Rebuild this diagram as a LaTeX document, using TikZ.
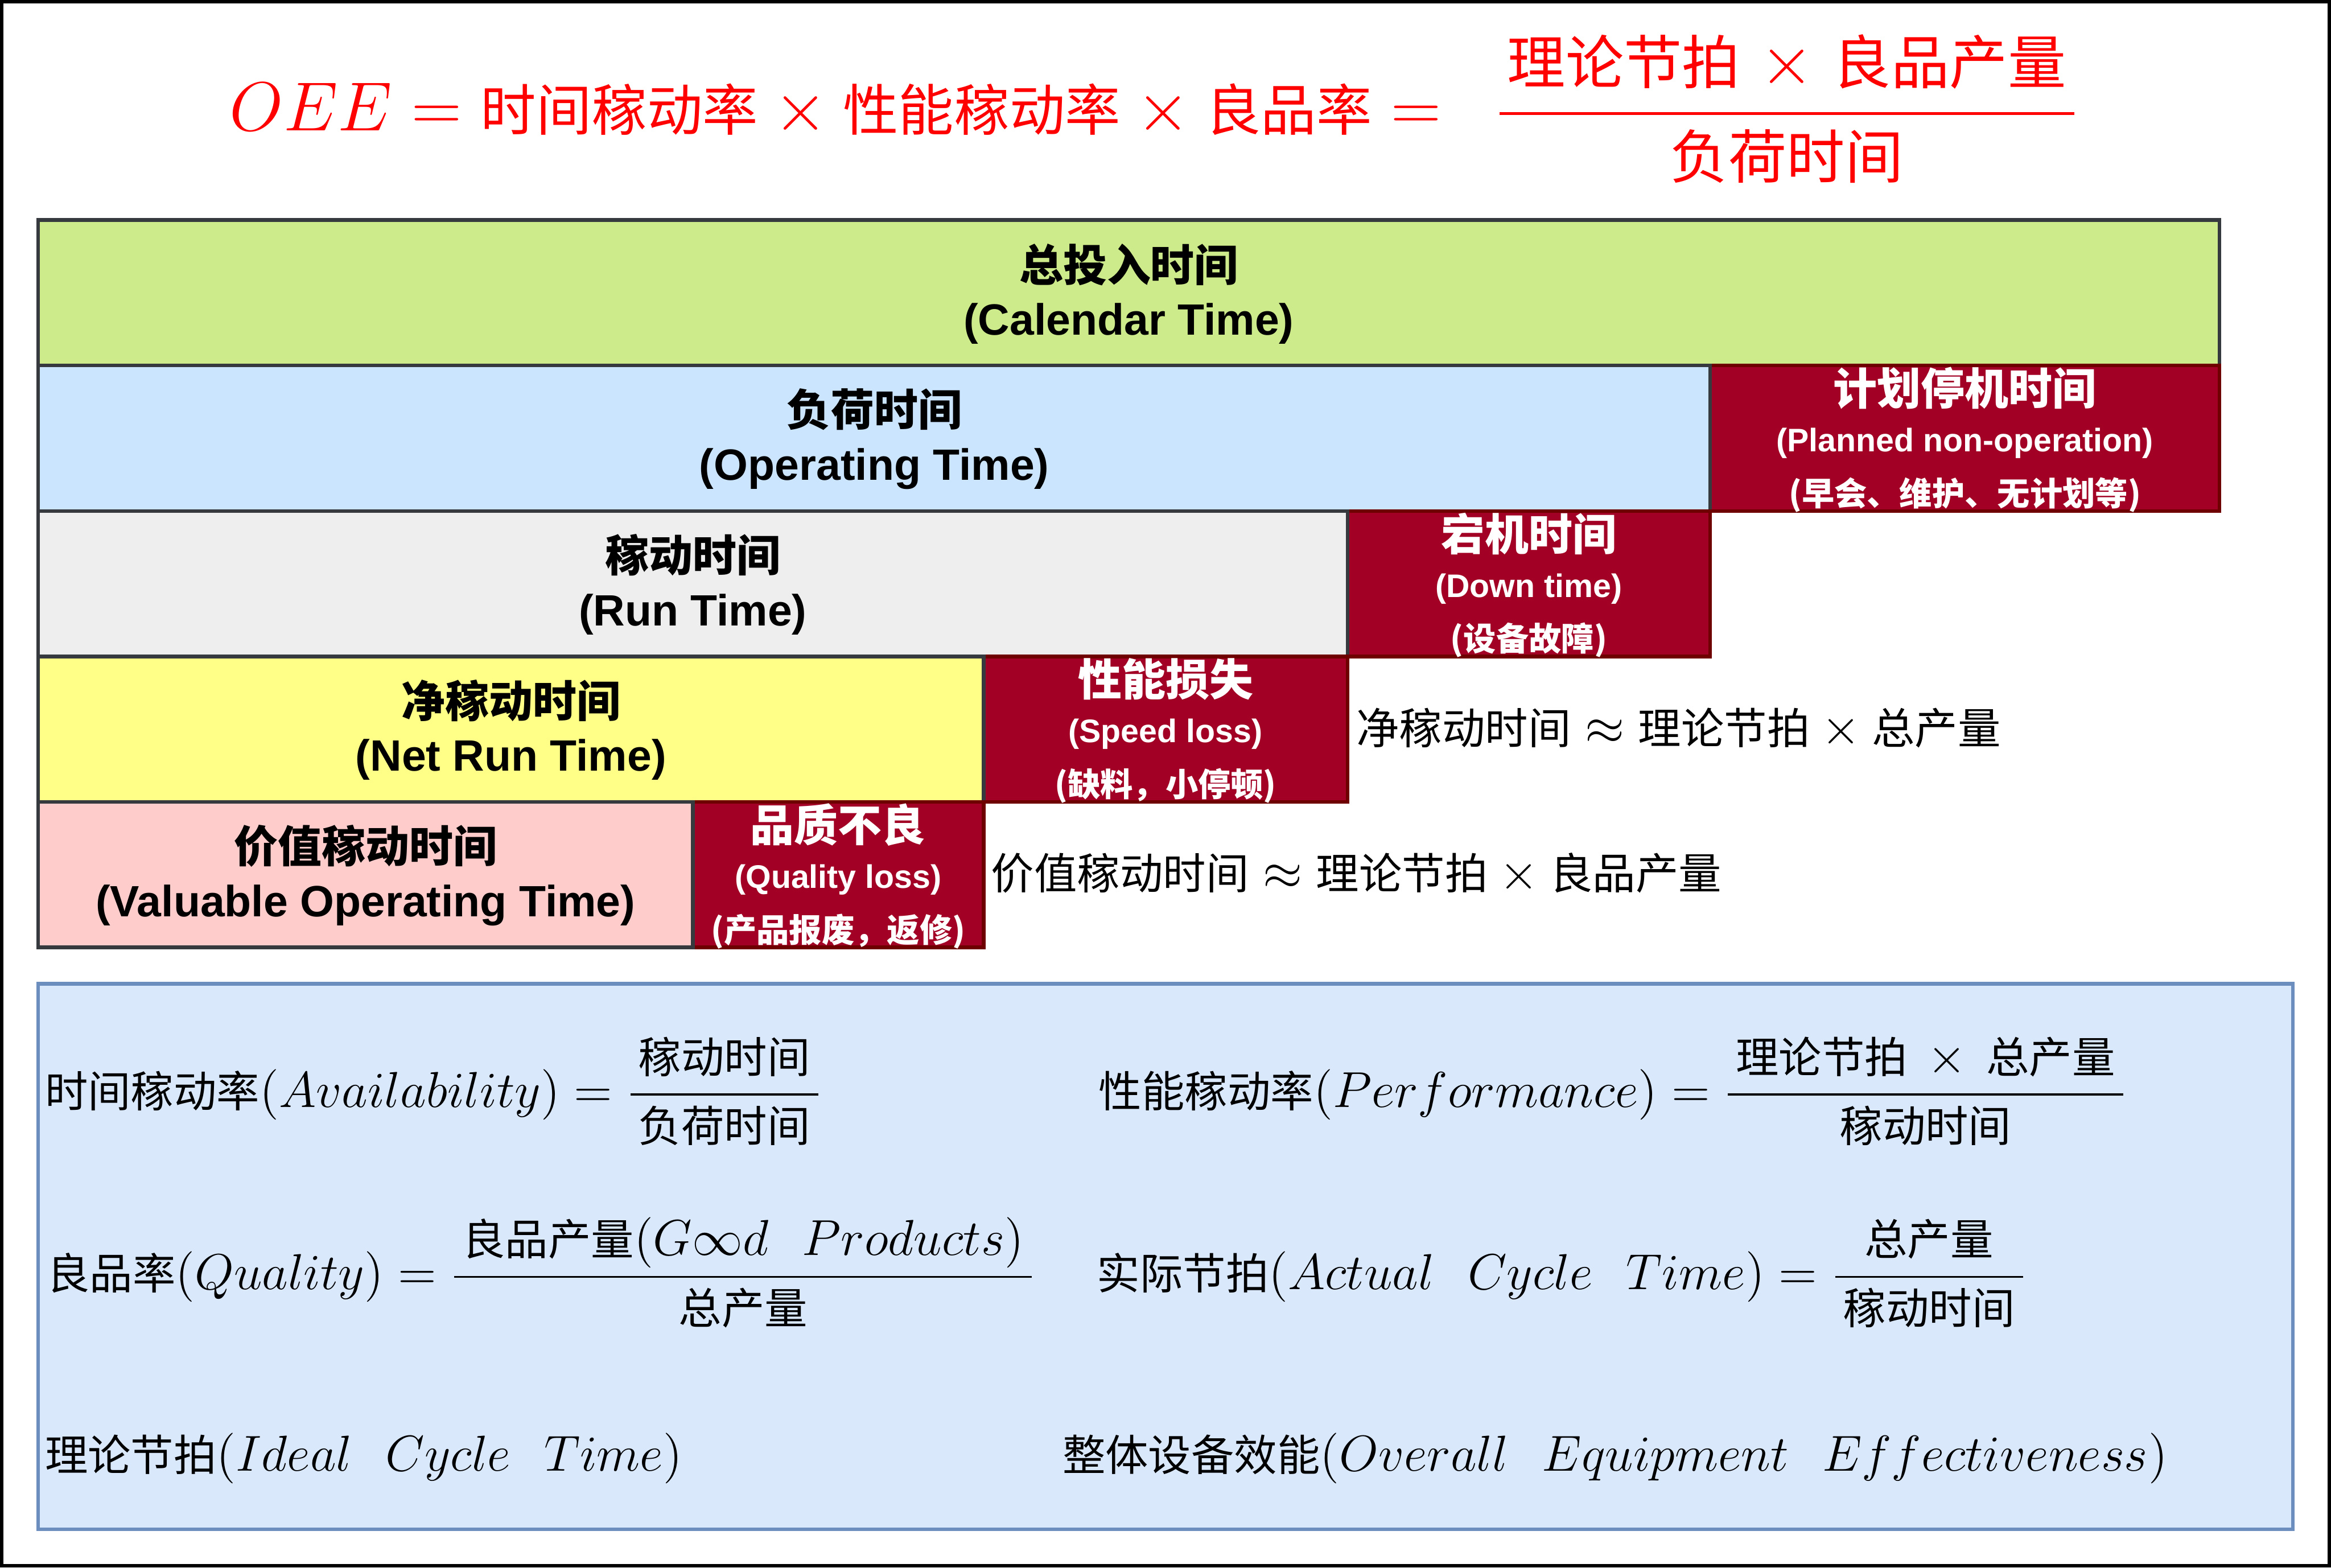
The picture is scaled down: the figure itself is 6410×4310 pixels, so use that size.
\RequirePackage{fix-cm}
\documentclass[tikz,border=0pt]{standalone}
\usepackage{amsmath}
\usepackage[no-math]{fontspec}
\setmainfont{Liberation Sans}
\newfontfamily\cjkb{Noto Sans CJK SC}
\newfontfamily\cjk[Scale=0.85]{Noto Sans CJK SC}
\newfontfamily\cjktop[Scale=0.80]{Noto Sans CJK SC}
\newfontfamily\cjkfrac[Scale=0.84]{Noto Sans CJK SC}

\definecolor{calgreen}{HTML}{CDEB8B}
\definecolor{opblue}{HTML}{CCE5FF}
\definecolor{rungray}{HTML}{EEEEEE}
\definecolor{netyellow}{HTML}{FFFF88}
\definecolor{valpink}{HTML}{FFCCCC}
\definecolor{stageline}{HTML}{36393D}
\definecolor{lossred}{HTML}{A20025}
\definecolor{lossline}{HTML}{6F0000}
\definecolor{panelfill}{HTML}{DAE8FC}
\definecolor{panelline}{HTML}{6C8EBF}

\tikzset{
    stagebox/.style={draw=stageline,line width=0.04cm},
    lossbox/.style={draw=lossline,fill=lossred,line width=0.04cm},
    stagelabel/.style={align=center,inner sep=0pt,
        font=\fontsize{13.7}{16.8}\selectfont\bfseries},
    losslabel/.style={align=center,inner sep=0pt,text=white,
        font=\fontsize{10.2}{16.8}\selectfont\bfseries},
    formula/.style={anchor=west,inner sep=0pt,
        font=\fontsize{15.8}{19}\selectfont},
}
\newcommand{\losstitle}[1]{{\fontsize{13.7}{16.8}\selectfont\cjkb #1}\\[-2.2pt]}
\newcommand{\zh}[1]{\text{\cjk #1}}
\newcommand{\zt}[1]{\text{\cjktop #1}}
\newcommand{\zf}[1]{\text{\cjkfrac #1}}
\newcommand{\pad}{\hspace{2.5pt}}
\newcommand{\wsp}{\mskip12mu}

\begin{document}
\begin{tikzpicture}[x=0.004cm,y=-0.004cm]
    \useasboundingbox (0,0) rectangle (6410,4310);
    \draw[line width=0.04cm] (5,5) rectangle (6405,4305);

    % OEE
    \node[anchor=west,inner sep=0pt,text=red,font=\fontsize{21.7}{26}\selectfont] (oee) at (630,299)
        {$OEE = \zt{时间稼动率} \times \zt{性能稼动率} \times \zt{良品率} = \hspace{11pt}
        \dfrac{\pad\zf{理论节拍} \mskip1mu\times\mskip1mu \zf{良品产量}\pad}{\pad\zf{负荷时间}\pad}$};

    % time bars, one row at a time
    \draw[stagebox,fill=calgreen] (105,605) rectangle (6103,1005);
    \draw[lossbox] (4703,1005) rectangle (6103,1405);
    \draw[stagebox,fill=opblue] (105,1005) rectangle (4703,1405);
    \draw[lossbox] (3706,1405) rectangle (4703,1805);
    \draw[stagebox,fill=rungray] (105,1405) rectangle (3706,1805);
    \draw[lossbox] (2705,1805) rectangle (3706,2205);
    \draw[stagebox,fill=netyellow] (105,1805) rectangle (2705,2205);
    \draw[lossbox] (1905,2205) rectangle (2705,2605);
    \draw[stagebox,fill=valpink] (105,2205) rectangle (1905,2605);

    \node[stagelabel] (calendar) at (3104,808) {{\cjkb 总投入时间}\\(Calendar Time)};
    \node[stagelabel] (operating) at (2404,1207) {{\cjkb 负荷时间}\\(Operating Time)};
    \node[stagelabel] (run) at (1905,1607) {{\cjkb 稼动时间}\\(Run Time)};
    \node[stagelabel] (netrun) at (1405,2007) {{\cjkb 净稼动时间}\\(Net Run Time)};
    \node[stagelabel] (valuable) at (1005,2407) {{\cjkb 价值稼动时间}\\(Valuable Operating Time)};

    \node[losslabel] (planned) at (5403,1209)
        {\losstitle{计划停机时间}(Planned non-operation)\\{\cjkb (早会、维护、无计划等)}};
    \node[losslabel] (down) at (4204,1609)
        {\losstitle{宕机时间}(Down time)\\{\cjkb (设备故障)}};
    \node[losslabel] (speed) at (3205,2009)
        {\losstitle{性能损失}(Speed loss)\\{\cjkb (缺料，小停顿)}};
    \node[losslabel] (quality) at (2305,2409)
        {\losstitle{品质不良}(Quality loss)\\{\cjkb (产品报废，返修)}};

    \node[formula] (netapprox) at (3728,2003)
        {$\zh{净稼动时间} \approx \zh{理论节拍} \times \zh{总产量}$};
    \node[formula] (valapprox) at (2724,2401)
        {$\zh{价值稼动时间} \approx \zh{理论节拍} \times \zh{良品产量}$};

    % definitions
    \draw[draw=panelline,fill=panelfill,line width=0.04cm] (105,2705) rectangle (6305,4205);
    \node[formula] (avail) at (122,3000)
        {$\zh{时间稼动率}(Availability) = \dfrac{\pad\zh{稼动时间}\pad}{\pad\zh{负荷时间}\pad}$};
    \node[formula] (perf) at (3020,3000)
        {$\zh{性能稼动率}(Performance) = \dfrac{\pad\zh{理论节拍} \,\times\, \zh{总产量}\pad}{\pad\zh{稼动时间}\pad}$};
    \node[formula] (qual) at (127,3499)
        {$\zh{良品率}(Quality) = \dfrac{\pad\zh{良品产量}(G\infty d\wsp Products)\pad}{\pad\zh{总产量}\pad}$};
    \node[formula] (actual) at (3015,3501)
        {$\zh{实际节拍}(Actual\wsp Cycle\wsp Time) = \dfrac{\pad\zh{总产量}\pad}{\pad\zh{稼动时间}\pad}$};
    \node[formula] (ideal) at (122,4010)
        {$\zh{理论节拍}(Ideal\wsp Cycle\wsp Time)$};
    \node[formula] (overall) at (2920,4010)
        {$\zh{整体设备效能}(Overall\wsp Equipment\wsp Effectiveness)$};
\end{tikzpicture}
\end{document}
